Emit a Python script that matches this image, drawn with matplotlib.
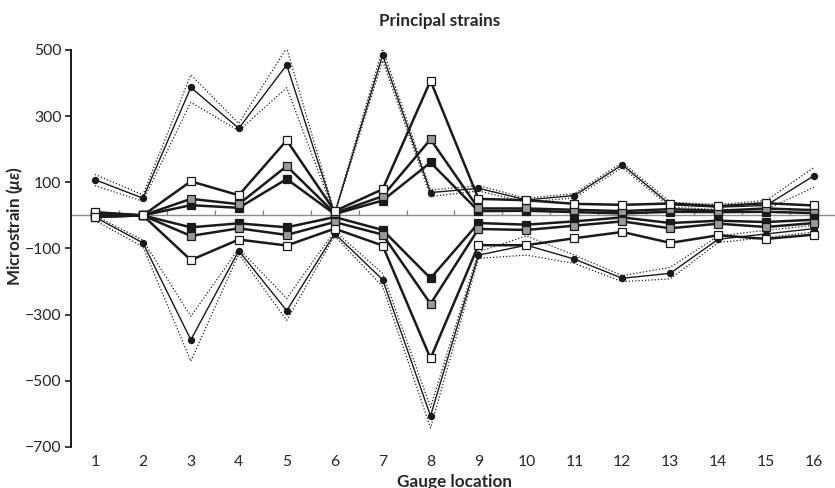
import matplotlib
matplotlib.use("Agg")
import matplotlib.pyplot as plt
import numpy as np

plt.rcParams['font.family'] = ['Lato', 'DejaVu Sans']
plt.rcParams['mathtext.fontset'] = 'custom'
plt.rcParams['mathtext.it'] = 'Lato:italic:bold'
plt.rcParams['mathtext.rm'] = 'Lato:bold'

gauges = list(range(1, 17))

# Max principal strain (circles) with upper/lower bounds (dotted)
max_mean = [108, 52, 387, 263, 455, 5, 485, 69, 82, 47, 60, 153, 32, 25, 30, 120]
max_hi = [124, 62, 425, 278, 506, 8, 504, 77, 90, 52, 66, 160, 40, 33, 45, 145]
max_lo = [90, 43, 342, 256, 386, 2, 468, 57, 74, 40, 53, 145, 25, 18, 18, 85]

# Min principal strain (circles) with bounds (dotted)
min_mean = [-5, -83, -376, -107, -288, -55, -194, -606, -120, -90, -132, -190, -175, -72, -56, -40]
min_hi = [0, -75, -305, -100, -251, -47, -175, -580, -110, -62, -120, -182, -157, -62, -45, -30]
min_lo = [-15, -95, -440, -117, -317, -62, -215, -642, -130, -120, -145, -200, -192, -82, -67, -50]

# Square-marker series (positive side)
white_up = [10, 0, 103, 61, 227, 13, 79, 407, 50, 46, 35, 32, 36, 28, 37, 30]
gray_up = [8, 0, 50, 34, 149, 7, 58, 230, 21, 21, 17, 13, 19, 14, 21, 16]
black_up = [5, 0, 31, 23, 110, 4, 45, 160, 13, 14, 10, 6, 11, 10, 11, 7]
# Square-marker series (negative side)
black_dn = [-3, 0, -36, -24, -36, -5, -44, -190, -23, -28, -18, -6, -23, -16, -20, -13]
gray_dn = [-4, 0, -62, -39, -59, -20, -58, -267, -41, -44, -31, -18, -39, -25, -35, -23]
white_dn = [-5, 0, -135, -73, -91, -40, -91, -432, -90, -90, -69, -50, -83, -60, -71, -58]

yticks = [-700, -500, -300, -100, 100, 300, 500]

W, H = 835, 488
fig = plt.figure(figsize=(W / 100, H / 100), dpi=100)
ax = fig.add_axes([71 / W, 41 / H, 767 / W, 397 / H])

txt = '#262626'
dot = (0, (1, 1.6))

for s in (max_hi, max_lo, min_hi, min_lo):
    ax.plot(gauges, s, color='#222222', lw=0.9, ls=dot, zorder=2)

for s in (max_mean, min_mean):
    ax.plot(gauges, s, color='#1a1a1a', lw=1.0, marker='o', ms=4.3,
            mfc='#1a1a1a', mec='#1a1a1a', zorder=3)

sq = dict(color='#1a1a1a', lw=1.8, marker='s', ms=5.3, mec='#1a1a1a', mew=0.9, zorder=4)
for s in (black_up, black_dn):
    ax.plot(gauges, s, mfc='#1a1a1a', **sq)
for s in (gray_up, gray_dn):
    ax.plot(gauges, s, mfc='#9a9a9a', **sq)
for s in (white_up, white_dn):
    ax.plot(gauges, s, mfc='white', **sq)

ax.set_xlim(0.5, 16.5)
ax.set_ylim(-700, 500)
ax.set_yticks(yticks)
ax.set_xticks(gauges)
ax.set_xticklabels([str(g) for g in gauges])

for sp in ('top', 'right', 'bottom'):
    ax.spines[sp].set_visible(False)
ax.spines['left'].set_linewidth(1.4)
ax.spines['left'].set_color('#1a1a1a')

ax.tick_params(axis='y', direction='out', length=4.5, width=1.2, pad=2.5,
               labelsize=11.3, labelcolor=txt, color='#1a1a1a')
ax.tick_params(axis='x', length=0, pad=6, labelsize=11.3, labelcolor=txt)

# category axis crossing at zero
sec = ax.secondary_xaxis(700 / 1200)
sec.set_xticks(np.arange(1.5, 16.5, 1.0))
sec.tick_params(axis='x', direction='out', length=3.5, width=0.9, color='#7a7a7a',
                labelbottom=False, labeltop=False)
for sp in sec.spines.values():
    sp.set_color('#8c8c8c')
    sp.set_linewidth(1.0)

ax.set_xlabel('Gauge location', fontsize=12.3, fontweight='bold', color=txt, labelpad=3)
fig.text(14.5 / W, 1 - 226 / H, r'Microstrain ($\mu\varepsilon$)', rotation=90,
         ha='center', va='center', fontsize=12.3, fontweight='bold', color=txt)
fig.text(440 / W, 1 - 21 / H, 'Principal strains', ha='center', va='center',
         fontsize=12.3, fontweight='bold', color=txt)

fig.savefig('out.png', dpi=100)
